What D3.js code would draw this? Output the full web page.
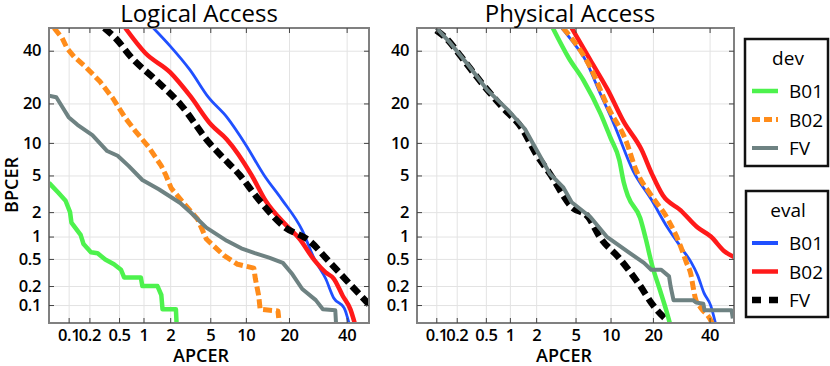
<!doctype html>
<html lang="en">
<head>
<meta charset="UTF-8">
<title>DET curves</title>
<script src="https://cdn.jsdelivr.net/npm/d3@7"></script>
<style>
    body{ margin:0; background:#fff; font-family:"Open Sans", sans-serif; }
    .grid line{ stroke:#e3e3e3; stroke-width:1px; }
    .grid path{ display:none; }
    .ticks line{ stroke:#444; stroke-width:1px; }
    .ticks path{ display:none; }
    .ticks text{ font-size:16.5px; letter-spacing:-0.4px; fill:#000; font-weight:600; font-family:"Open Sans", sans-serif; }
    .frame{ fill:none; stroke:#808080; stroke-width:2px; }
    .title{ font-size:24px; fill:#000; text-anchor:middle; }
    .label{ font-size:18px; fill:#000; font-weight:600; text-anchor:middle; }
    .curve{ fill:none; stroke-linejoin:round; }
    .legBox{ fill:#fff; stroke:#111; stroke-width:2.5px; }
    .legText{ font-size:19px; fill:#000; }
</style>
</head>
<body>
<svg width="830" height="366"></svg>
<script>
    // tick values in percent
    const tickValues = [0.1, 0.2, 0.5, 1, 2, 5, 10, 20, 40];
    const tickLabels = ["0.1", "0.2", "0.5", "1", "2", "5", "10", "20", "40"];

    // Logical access, [APCER %, BPCER %]
    const laDevB01 = [[0.05,4.2],[0.07,3.3],[0.09,2.7],[0.105,2.0],[0.11,1.5],[0.15,1.05],[0.165,0.8],[0.21,0.62],
        [0.26,0.6],[0.33,0.49],[0.43,0.42],[0.53,0.35],[0.58,0.27],[0.93,0.27],[0.97,0.2],[1.45,0.2],[1.6,0.145],
        [1.65,0.085],[2.3,0.085],[2.35,0.04]];
    const laDevB02 = [[0.06,50],[0.08,45.5],[0.095,41],[0.12,37.5],[0.18,33],[0.28,27.5],[0.42,21.5],[0.6,15.8],
        [0.8,12.5],[1.15,9.2],[1.6,6.2],[1.8,5.0],[2.05,3.7],[2.8,2.5],[3.8,1.65],[4.6,0.93],[6.6,0.56],[8.6,0.42],
        [11.5,0.37],[11.8,0.26],[12.5,0.14],[12.8,0.085],[17,0.08],[17.5,0.04]];
    const laDevFV = [[0.05,22.5],[0.065,22],[0.08,19],[0.1,16],[0.135,14],[0.22,11.6],[0.35,8.5],[0.48,7.7],
        [0.66,6.2],[0.97,4.5],[1.5,3.6],[2.55,2.55],[3.3,1.95],[4.6,1.3],[7,0.88],[9.2,0.7],[11.7,0.6],[14.8,0.52],
        [18.3,0.44],[21,0.3],[24,0.18],[28.5,0.12],[31,0.085],[35.6,0.082],[36,0.04]];
    const laEvalB01 = [[1.3,50],[2,42],[3.2,32],[4.8,22],[7,16],[10,9.6],[13.7,5],[18,2.8],[24,1.2],[28,0.5],
        [32,0.26],[35,0.13],[39,0.09],[41.5,0.04]];
    const laEvalB02 = [[0.6,50],[1.05,39],[2,31],[3.2,22.5],[5.1,14],[7,10.7],[11,5.1],[14,2.7],[19.5,1.35],
        [23,0.95],[28,0.48],[32,0.32],[35,0.26],[38.5,0.14],[41.5,0.085],[43.5,0.045]];
    const laEvalFV = [[0.32,50],[0.45,45.5],[0.72,37],[1.4,28],[2.6,19.5],[4.9,10],[6.5,7.4],[9,5],[12,3],
        [18.5,1.35],[26.5,0.87],[33.5,0.45],[41.5,0.21],[49.8,0.095]];

    // Physical access
    const paDevB01 = [[3.0,50],[4.3,37],[5.9,28],[8.3,17],[10,11],[11.7,7],[12.6,4.3],[13.6,3],[16.5,1.7],
        [18,0.93],[19.8,0.4],[22,0.18],[24,0.085],[25.5,0.045]];
    const paDevB02 = [[3.8,50],[4.5,46],[6.8,33],[9.5,19],[13.2,10.2],[15.5,5.6],[19.5,3.1],[24.6,1.65],
        [29,0.74],[31,0.45],[32.8,0.29],[33.5,0.2],[34.5,0.125],[36.5,0.09],[40,0.06],[41.5,0.045]];
    const paDevFV = [[0.1,50],[0.155,44],[0.29,34],[0.52,24.5],[0.95,18],[1.5,13],[2,8.8],[2.8,5.2],[3.8,3.8],
        [4.6,2.6],[6.8,1.75],[9.3,1.0],[13.5,0.63],[17.5,0.44],[19.5,0.35],[22.5,0.35],[25,0.28],[25.5,0.2],
        [26.5,0.12],[33.5,0.12],[34.7,0.11],[37.5,0.105],[38,0.082],[49,0.082],[49.5,0.06]];
    const paEvalB01 = [[3.7,50],[4.6,44.5],[6.2,35.8],[8.0,24.5],[10.7,14],[14.8,5.5],[19.5,2.8],[24.5,1.3],
        [30.2,0.63],[32.8,0.45],[35.3,0.29],[37.8,0.155],[40.5,0.097],[42.6,0.045]];
    const paEvalB02 = [[4.6,50],[6.8,36],[9.5,24.5],[12.6,14.8],[16.8,8.8],[19.8,5.1],[23,3.1],[29,2.1],
        [35.3,1.3],[40.5,1.0],[46,0.64],[50,0.53]];
    const paEvalFV = [[0.1,49],[0.14,45.5],[0.23,37.5],[0.44,27],[0.8,19],[1.4,13],[2,8],[2.8,5.2],[4.6,2.3],
        [6.5,1.75],[8.2,0.98],[11.6,0.52],[16.3,0.21],[20,0.1],[23,0.065],[25,0.052]];

    // inverse normal cdf (Acklam)
    function probit(p){
        const a=[-3.969683028665376e+01,2.209460984245205e+02,-2.759285104469687e+02,1.383577518672690e+02,-3.066479806614716e+01,2.506628277459239e+00];
        const b=[-5.447609879822406e+01,1.615858368580409e+02,-1.556989798598866e+02,6.680131188771972e+01,-1.328068155288572e+01];
        const c=[-7.784894002430293e-03,-3.223964580411365e-01,-2.400758277161838e+00,-2.549732539343734e+00,4.374664141464968e+00,2.938163982698783e+00];
        const d=[7.784695709041462e-03,3.224671290700398e-01,2.445134137142996e+00,3.754408661907416e+00];
        const pl=0.02425;
        let q, r;
        if(p<pl){
            q=Math.sqrt(-2*Math.log(p));
            return (((((c[0]*q+c[1])*q+c[2])*q+c[3])*q+c[4])*q+c[5])/((((d[0]*q+d[1])*q+d[2])*q+d[3])*q+1);
        }
        if(p<=1-pl){
            q=p-0.5; r=q*q;
            return (((((a[0]*r+a[1])*r+a[2])*r+a[3])*r+a[4])*r+a[5])*q/(((((b[0]*r+b[1])*r+b[2])*r+b[3])*r+b[4])*r+1);
        }
        q=Math.sqrt(-2*Math.log(1-p));
        return -(((((c[0]*q+c[1])*q+c[2])*q+c[3])*q+c[4])*q+c[5])/((((d[0]*q+d[1])*q+d[2])*q+d[3])*q+1);
    }
    const pz = v => probit(v/100);

    const styles = {
        devB01:  {color:"#4df24d", width:4.5, dash:null},
        devB02:  {color:"#ff8c1a", width:5, dash:"9,4"},
        devFV:   {color:"#6e8282", width:4, dash:null},
        evalB01: {color:"#2050ff", width:2.8, dash:null},
        evalB02: {color:"#ff1a1a", width:4.5, dash:null},
        evalFV:  {color:"#000000", width:6.5, dash:"10,5"}
    };

    const plotTop = 28, plotBottom = 323;
    // series: [style key, data, smooth?]
    const panels = [
        {title:"Logical Access", x0:49, x1:369, xmax:49, titleX:199, labelX:201,
         series:[["evalB01",laEvalB01,true],["evalB02",laEvalB02,true],["evalFV",laEvalFV,true],
                 ["devB01",laDevB01,false],["devB02",laDevB02,false],["devFV",laDevFV,false]]},
        {title:"Physical Access", x0:417, x1:734, xmax:50, titleX:570, labelX:564,
         series:[["evalB01",paEvalB01,true],["evalB02",paEvalB02,true],["evalFV",paEvalFV,true],
                 ["devB01",paDevB01,true],["devB02",paDevB02,true],["devFV",paDevFV,false]]}
    ];

    const svg = d3.select("svg");
    const y = d3.scaleLinear().domain([pz(0.05), pz(50)]).range([plotBottom, plotTop]);
    const tz = tickValues.map(pz);

    panels.forEach((p, pi) => {
        const x = d3.scaleLinear().domain([pz(0.05), pz(p.xmax)]).range([p.x0, p.x1]);
        const w = p.x1 - p.x0, h = plotBottom - plotTop;
        const g = svg.append("g");

        // grid
        g.append("g").attr("class","grid").attr("transform",`translate(0,${plotBottom})`)
            .call(d3.axisBottom(x).tickValues(tz).tickSize(-h).tickFormat(""));
        g.append("g").attr("class","grid").attr("transform",`translate(${p.x0},0)`)
            .call(d3.axisLeft(y).tickValues(tz).tickSize(-w).tickFormat(""));

        // curves
        const clipId = "clip" + pi;
        g.append("clipPath").attr("id", clipId).append("rect")
            .attr("x", p.x0).attr("y", plotTop).attr("width", w).attr("height", h);
        const line = d3.line().x(d => x(pz(d[0]))).y(d => y(pz(d[1])));
        const curves = g.append("g").attr("clip-path", `url(#${clipId})`);
        p.series.forEach(([key, data, smooth]) => {
            const s = styles[key];
            line.curve(smooth ? d3.curveMonotoneX : d3.curveLinear);
            curves.append("path").attr("class","curve")
                .attr("d", line(data))
                .attr("stroke", s.color)
                .attr("stroke-width", s.width)
                .attr("stroke-dasharray", s.dash);
        });

        // frame + inward ticks
        g.append("rect").attr("class","frame").attr("x",p.x0).attr("y",plotTop).attr("width",w).attr("height",h);
        g.append("g").attr("class","ticks").attr("transform",`translate(0,${plotBottom})`)
            .call(d3.axisBottom(x).tickValues(tz).tickSizeInner(-5).tickSizeOuter(0).tickPadding(6)
                .tickFormat((d,i) => tickLabels[i]));
        g.append("g").attr("class","ticks").attr("transform",`translate(0,${plotTop})`)
            .call(d3.axisTop(x).tickValues(tz).tickSizeInner(-5).tickSizeOuter(0).tickFormat(""));
        g.append("g").attr("class","ticks").attr("transform",`translate(${p.x0},0)`)
            .call(d3.axisLeft(y).tickValues(tz).tickSizeInner(-5).tickSizeOuter(0).tickPadding(8)
                .tickFormat((d,i) => tickLabels[i]));
        g.append("g").attr("class","ticks").attr("transform",`translate(${p.x1},0)`)
            .call(d3.axisRight(y).tickValues(tz).tickSizeInner(-5).tickSizeOuter(0).tickFormat(""));

        // texts
        g.append("text").attr("class","title").attr("x", p.titleX).attr("y", 22).text(p.title);
        g.append("text").attr("class","label").attr("x", p.labelX).attr("y", 362).text("APCER");
    });

    svg.append("text").attr("class","label")
        .attr("transform","translate(18,185) rotate(-90)").text("BPCER");

    // legends
    const legends = [
        {title:"dev", x:745, y:39, h:127, keys:["devB01","devB02","devFV"]},
        {title:"eval", x:746, y:191, h:126, keys:["evalB01","evalB02","evalFV"]}
    ];
    const legNames = ["B01", "B02", "FV"];
    legends.forEach(L => {
        const lg = svg.append("g");
        lg.append("rect").attr("class","legBox").attr("x",L.x).attr("y",L.y).attr("width",828-L.x).attr("height",L.h);
        lg.append("text").attr("class","legText").attr("x",788).attr("y",L.y+26)
            .attr("text-anchor","middle").text(L.title);
        L.keys.forEach((k, i) => {
            const s = styles[k];
            const ly = L.y + 52 + i * 28.5;
            lg.append("line").attr("x1",752).attr("x2",778).attr("y1",ly).attr("y2",ly)
                .attr("stroke", s.color).attr("stroke-width", Math.max(s.width, 4))
                .attr("stroke-dasharray", s.dash ? (k === "evalFV" ? "9,8" : "8,4") : null);
            lg.append("text").attr("class","legText").attr("x",789).attr("y",ly+7).text(legNames[i]);
        });
    });
</script>
</body>
</html>
